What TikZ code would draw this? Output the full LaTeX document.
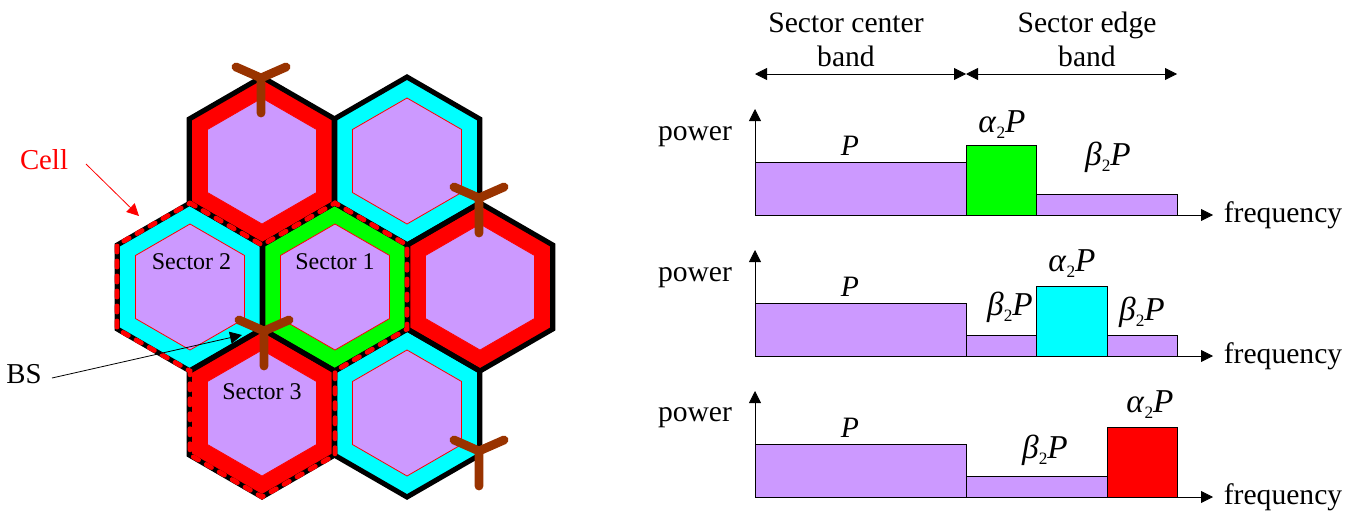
\documentclass[tikz,border=0pt]{standalone}
\usepackage{fontspec}
\setmainfont{Liberation Serif}
\usetikzlibrary{arrows.meta}
\definecolor{lilac}{HTML}{CC99FF}
\definecolor{brownant}{HTML}{993300}
\definecolor{cyanb}{HTML}{00FFFF}
\definecolor{greenb}{HTML}{00FF00}
\definecolor{redb}{HTML}{FF0000}
\newcommand{\hexpath}[3]{({#1},{#2-#3}) -- ({#1+0.866*#3},{#2-0.5*#3}) -- ({#1+0.866*#3},{#2+0.5*#3}) -- ({#1},{#2+#3}) -- ({#1-0.866*#3},{#2+0.5*#3}) -- ({#1-0.866*#3},{#2-0.5*#3}) -- cycle}
\newcommand{\cellhex}[3]{%
  \path[fill=#3] \hexpath{#1}{#2}{84};
  \path[fill=lilac,draw=redb,line width=0.6pt] \hexpath{#1}{#2}{63};
}
\newcommand{\cellline}[2]{\draw[blackline] \hexpath{#1}{#2}{84};}
\newcommand{\antenna}[2]{%
  \draw[antline] ({#1},{#2+35}) -- ({#1},{#2}) -- ({#1-25},{#2-11});
  \draw[antline] ({#1},{#2}) -- ({#1+25},{#2-11});
}
\newcommand{\subtwo}{\raisebox{-4.5pt}{\fontsize{13pt}{13pt}\selectfont 2}}
\newcommand{\aP}{\textit{α}\subtwo\textit{P}}
\newcommand{\bP}{\textit{β}\subtwo\textit{P}}
\tikzset{
  blackline/.style={draw=black,line width=3.8pt,line join=miter},
  antline/.style={draw=brownant,line width=6.6pt,line cap=round,line join=miter},
  celloutline/.style={draw=redb,line width=3.6pt,line cap=round,dash pattern=on 4.6pt off 6.65pt},
  axisline/.style={draw=black,line width=0.6pt,-{Triangle[length=9pt,width=9pt]}},
  bandline/.style={draw=black,line width=0.6pt,{Triangle[length=9pt,width=9pt]}-{Triangle[length=9pt,width=9pt]}},
  bar/.style={draw=black,line width=0.5pt},
  lbl/.style={inner sep=0pt,anchor=base,font=\fontsize{22.2pt}{24pt}\selectfont},
  biglbl/.style={inner sep=0pt,anchor=base,font=\fontsize{21.6pt}{24pt}\selectfont},
  mathlbl/.style={inner sep=0pt,anchor=base,font=\fontsize{25pt}{27pt}\selectfont},
  seclbl/.style={inner sep=0pt,anchor=base,font=\fontsize{18pt}{20pt}\selectfont},
}
\begin{document}
\begin{tikzpicture}[x=0.75pt,y=-0.75pt]
\useasboundingbox (0,0) rectangle (1356,511);
% hexagons
\cellhex{262}{161}{redb}
\cellhex{407}{161}{cyanb}
\cellhex{190}{287}{cyanb}
\cellhex{335}{287}{greenb}
\cellhex{480}{287}{redb}
\cellhex{262}{413}{redb}
\cellhex{407}{413}{cyanb}
\cellline{262}{161}
\cellline{407}{161}
\cellline{190}{287}
\cellline{335}{287}
\cellline{480}{287}
\cellline{262}{413}
\cellline{407}{413}
% cell outline
\draw[celloutline] (190,203) -- (262,245) -- (335,203) -- (407,245) -- (407,329) -- (335,371) -- (335,455) -- (262,497) -- (190,455) -- (190,371) -- (117,329) -- (117,245) -- cycle;
% antennas
\antenna{261}{78}
\antenna{479}{198}
\antenna{264}{331}
\antenna{479}{451}
% left labels
\node[biglbl,text=redb] (cell) at (44,169) {Cell};
\coordinate (cellstart) at (86,164);
\coordinate (celltip) at (139,216);
\draw[draw=redb,line width=0.6pt,-{Triangle[length=9pt,width=9pt]}] (cellstart) -- (celltip);
\node[biglbl] (bs) at (24,383) {BS};
\coordinate (bsstart) at (52,378);
\coordinate (bstip) at (242,335);
\draw[axisline] (bsstart) -- (bstip);
\node[seclbl] (s2) at (191.5,269) {Sector 2};
\node[seclbl] (s1) at (335,269) {Sector 1};
\node[seclbl] (s3) at (262,399) {Sector 3};
% top bands
\node[lbl] (sc1) at (846,32) {Sector center};
\node[lbl] (sc2) at (846,66) {band};
\node[lbl] (se1) at (1087,32) {Sector edge};
\node[lbl] (se2) at (1087,66) {band};
\coordinate (b0) at (755,74);
\coordinate (b1) at (966,74);
\coordinate (b2) at (1177,74);
\draw[bandline] (b0) -- (b1);
\draw[bandline] (b1) -- (b2);
% row 1
\filldraw[bar,fill=lilac] (755,162) rectangle (966,215);
\filldraw[bar,fill=greenb] (966,145) rectangle (1036,215);
\filldraw[bar,fill=lilac] (1036,194) rectangle (1177,215);
\coordinate (o1) at (755,215);
\coordinate (y1) at (755,109);
\coordinate (x1) at (1213,215);
\draw[axisline] (o1) -- (y1);
\draw[axisline] (o1) -- (x1);
\node[lbl] (pw1) at (695,140) {power};
\node[lbl] (fr1) at (1283,222) {frequency};
\node[lbl] (p1) at (850,155) {\textit{P}};
\node[mathlbl] (a1) at (1002,132) {\aP};
\node[mathlbl] (be1) at (1108,165) {\bP};
% row 2
\filldraw[bar,fill=lilac] (755,303) rectangle (966,356);
\filldraw[bar,fill=lilac] (966,335) rectangle (1036,356);
\filldraw[bar,fill=cyanb] (1036,286) rectangle (1107,356);
\filldraw[bar,fill=lilac] (1107,335) rectangle (1177,356);
\coordinate (o2) at (755,356);
\coordinate (y2) at (755,250);
\coordinate (x2) at (1213,356);
\draw[axisline] (o2) -- (y2);
\draw[axisline] (o2) -- (x2);
\node[lbl] (pw2) at (695,281) {power};
\node[lbl] (fr2) at (1283,363) {frequency};
\node[lbl] (p2) at (850,296) {\textit{P}};
\node[mathlbl] (a2) at (1072,271) {\aP};
\node[mathlbl] (be2a) at (1010,315) {\bP};
\node[mathlbl] (be2b) at (1142,320) {\bP};
% row 3
\filldraw[bar,fill=lilac] (755,444) rectangle (966,497);
\filldraw[bar,fill=lilac] (966,476) rectangle (1107,497);
\filldraw[bar,fill=redb] (1107,427) rectangle (1177,497);
\coordinate (o3) at (755,497);
\coordinate (y3) at (755,391);
\coordinate (x3) at (1213,497);
\draw[axisline] (o3) -- (y3);
\draw[axisline] (o3) -- (x3);
\node[lbl] (pw3) at (695,421) {power};
\node[lbl] (fr3) at (1283,504) {frequency};
\node[lbl] (p3) at (850,437) {\textit{P}};
\node[mathlbl] (a3) at (1150,412) {\aP};
\node[mathlbl] (be3) at (1045,458) {\bP};
\end{tikzpicture}
\end{document}
